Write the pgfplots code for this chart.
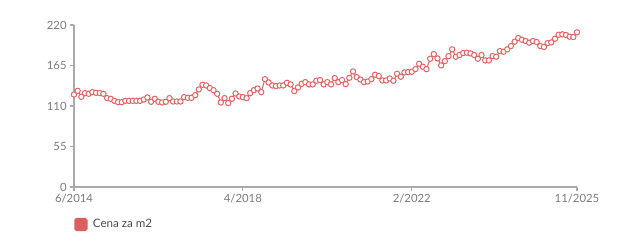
\documentclass[border=0pt]{standalone}
\usepackage{pgfplots}
\pgfplotsset{compat=1.18}
\usepackage{fontspec}
\setmainfont{Lato}
\definecolor{markred}{HTML}{E06464}
\definecolor{legred}{HTML}{DC5F5F}
\definecolor{axisgray}{HTML}{AAAAAA}
\definecolor{labelgray}{HTML}{7A7A7A}
\begin{document}
\begin{tikzpicture}
\path[use as bounding box] (0,0) rectangle (465pt,189pt);
\begin{axis}[
  at={(55.5pt,48.75pt)}, anchor=south west,
  scale only axis, width=377.25pt, height=121.5pt,
  xmin=0, xmax=137, ymin=0, ymax=220,
  axis x line*=bottom, axis y line*=left,
  xtick={0,46,92,137}, xticklabels={6/2014,4/2018,2/2022,11/2025},
  ytick={0,55,110,165,220},
  tick align=outside, major tick length=3pt,
  tick style={color=axisgray, line width=0.8pt},
  axis line style={color=axisgray, line width=0.9pt},
  tick label style={font=\fontsize{8.5}{10}\selectfont, text=labelgray},
  /pgf/number format/assume math mode=true,
  xticklabel style={yshift=1pt},
  yticklabel style={xshift=1pt},
  clip=false,
  legend style={draw=none, fill=none, at={(0,0)}, anchor=north west,
    xshift=0pt, yshift=-22pt, inner sep=0pt,
    font=\fontsize{8.7}{10}\selectfont, text=black!70},
  legend cell align=left,
]
\addplot[color=markred, line width=0.75pt, mark=*, mark size=2pt,
  mark options={fill=white, draw=markred, line width=0.75pt},
  legend image code/.code={\fill[legred, rounded corners=1.3pt] (0pt,-4.6pt) rectangle (9.2pt,4.6pt); \path (11.2pt,0pt);}]
coordinates {
(0,125.6)(1,130.6)(2,122.5)(3,127.5)(4,126.6)(5,128.8)(6,127.9)(7,127.5)(8,126.6)(9,120.7)
(10,119.8)(11,117)(12,115.2)(13,115.2)(14,117)(15,117)(16,117)(17,117)(18,117)(19,118.8)
(20,121.6)(21,115.7)(22,119.8)(23,115.7)(24,114.8)(25,115.7)(26,120.7)(27,116.1)(28,116.1)(29,116.1)
(30,122)(31,121.1)(32,121.1)(33,124.7)(34,132.5)(35,138.8)(36,137.9)(37,134.3)(38,131.5)(39,126.6)
(40,114.8)(41,120.7)(42,113.9)(43,119.8)(44,127)(45,122.9)(46,122)(47,120.7)(48,127.5)(49,131.5)
(50,133.8)(51,128.8)(52,146.5)(53,142)(54,137.9)(55,137)(56,137.9)(57,137.9)(58,141.5)(59,139.3)
(60,130.2)(61,135.2)(62,140.2)(63,142.4)(64,139.3)(65,139.3)(66,144.3)(67,145.2)(68,139.3)(69,142.4)
(70,139.3)(71,147.9)(72,142.4)(73,145.2)(74,139.7)(75,148.3)(76,157)(77,149.2)(78,146)(79,142.4)
(80,143.3)(81,146.5)(82,152.4)(83,150.6)(84,144.7)(85,144.7)(86,147.4)(87,144.3)(88,153.8)(89,149.7)
(90,155.6)(91,156)(92,156.5)(93,160.1)(94,167.4)(95,163.3)(96,160.1)(97,174.2)(98,180.5)(99,174.6)
(100,165.1)(101,171)(102,177.8)(103,186.9)(104,176.9)(105,179.2)(106,181.9)(107,182.4)(108,181.4)(109,179.2)
(110,174.2)(111,179.2)(112,171.9)(113,171.9)(114,177.8)(115,176.9)(116,184.6)(117,183.7)(118,186.9)(119,191.4)
(120,197.3)(121,202.3)(122,200)(123,198.2)(124,196)(125,198.2)(126,196.9)(127,191.4)(128,190.1)(129,195.5)
(130,196.4)(131,201.4)(132,206.8)(133,207.3)(134,206.4)(135,204.1)(136,203.7)(137,210)
};
\addlegendentry{Cena za m2}
\end{axis}
\end{tikzpicture}
\end{document}
